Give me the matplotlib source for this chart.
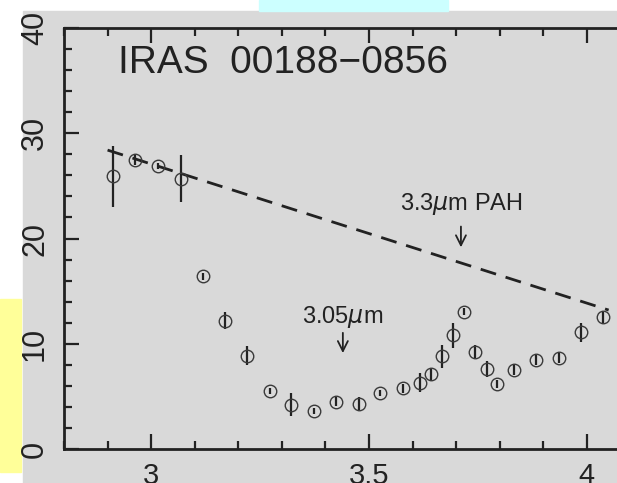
import matplotlib.pyplot as plt
import matplotlib.patches as patches
from matplotlib.ticker import MultipleLocator

# Spectrum values
wavelength = [2.912, 2.964, 3.015, 3.068, 3.118, 3.169, 3.220, 3.272, 3.322, 3.374,
              3.424, 3.476, 3.526, 3.578, 3.617, 3.642, 3.667, 3.693, 3.718, 3.744,
              3.770, 3.794, 3.833, 3.884, 3.936, 3.986, 4.038]
flux = [25.9, 27.5, 26.9, 25.7, 16.4, 12.2, 8.85, 5.5, 4.2, 3.6,
        4.5, 4.3, 5.3, 5.75, 6.3, 7.1, 8.8, 10.8, 13.05, 9.25,
        7.6, 6.15, 7.55, 8.45, 8.65, 11.1, 12.5]
flux_err = [2.9, 0.5, 0.3, 2.2, 0.3, 0.8, 0.9, 0.3, 1.1, 0.3,
            0.4, 0.6, 0.3, 0.4, 0.9, 0.6, 1.1, 1.2, 0.3, 0.6,
            0.8, 0.4, 0.5, 0.5, 0.5, 0.9, 0.5]

# Continuum (dashed line) end points
cont_x = [2.90, 4.05]
cont_y = [28.4, 13.2]

title = "IRAS  00188\u22120856"
x_ticks = [3, 3.5, 4]
x_ticklabels = ["3", "3.5", "4"]
y_ticks = [0, 10, 20, 30, 40]

plt.rcParams['font.family'] = ['Liberation Sans', 'DejaVu Sans']
plt.rcParams['mathtext.fontset'] = 'dejavusans'

W, H = 617, 483
fig = plt.figure(figsize=(W / 100, H / 100), dpi=100)
fig.patch.set_facecolor('white')

# slide background pieces
fig.patches.append(patches.Rectangle((23 / W, 0), 1, (H - 11) / H, transform=fig.transFigure,
                                     color='#d9d9d9', zorder=-2))
fig.patches.append(patches.Rectangle((259 / W, (H - 11) / H), (448 - 259) / W, 11 / H,
                                     transform=fig.transFigure, color='#ccffff', zorder=-2))
fig.patches.append(patches.Rectangle((0, (H - 472) / H), 21 / W, (472 - 299) / H,
                                     transform=fig.transFigure, color='#ffff99', zorder=-2))

# axes: left spine at x=64px, bottom at y=449px, top at y=28px; right side runs off the picture
ax = fig.add_axes([64 / W, (H - 449) / H, (674 - 64) / W, (449 - 28) / H])
ax.set_zorder(5)
ax.set_facecolor('none')
ax.set_xlim(2.8, 4.2)
ax.set_ylim(0, 40)

ink = '#222222'
ax.errorbar(wavelength, flux, yerr=flux_err, fmt='o', ms=9, mfc='none', mec='#3a3a3a',
            mew=1.0, ecolor=ink, elinewidth=1.6, capsize=0, zorder=3)
ax.plot(cont_x, cont_y, color=ink, lw=2.0, dashes=(5.8, 3.6), zorder=2)

ax.text(2.924, 35.7, title, fontsize=28, color=ink, ha='left', va='baseline')

ax.text(3.713, 22.7, r"3.3$\mu$m PAH", fontsize=17, color=ink, ha='center', va='baseline')
ax.annotate('', xy=(3.711, 18.9), xytext=(3.711, 21.4),
            arrowprops=dict(arrowstyle='->', color=ink, lw=1.3, mutation_scale=18))
ax.text(3.44, 12.0, r"3.05$\mu$m", fontsize=17, color=ink, ha='center', va='baseline')
ax.annotate('', xy=(3.44, 8.85), xytext=(3.44, 11.3),
            arrowprops=dict(arrowstyle='->', color=ink, lw=1.3, mutation_scale=18))

for s in ax.spines.values():
    s.set_linewidth(2.0)
    s.set_color(ink)

ax.set_xticks(x_ticks)
ax.set_xticklabels(x_ticklabels)
ax.set_yticks(y_ticks)
ax.xaxis.set_minor_locator(MultipleLocator(0.1))
ax.yaxis.set_minor_locator(MultipleLocator(2))
ax.tick_params(which='both', direction='in', top=True, right=True, color=ink, width=1.6)
ax.tick_params(which='major', length=11)
ax.tick_params(which='minor', length=6)
ax.tick_params(axis='x', which='major', labelsize=21, pad=9, labelcolor=ink)
ax.tick_params(axis='y', which='major', labelsize=22, pad=10, labelcolor=ink)
for lab in ax.get_yticklabels():
    lab.set_rotation(90)
    lab.set_va('center')

fig.savefig('out.png', dpi=100)
